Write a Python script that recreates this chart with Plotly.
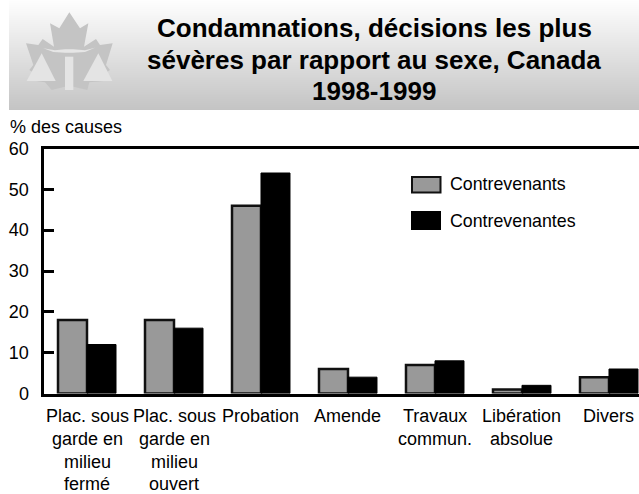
import plotly.graph_objects as go

categories = ["Plac. sous garde en milieu fermé", "Plac. sous garde en milieu ouvert", "Probation", "Amende",
              "Travaux commun.", "Libération absolue", "Divers"]
category_lines = [["Plac. sous", "garde en", "milieu", "fermé"], ["Plac. sous", "garde en", "milieu", "ouvert"],
                  ["Probation"], ["Amende"], ["Travaux", "commun."], ["Libération", "absolue"], ["Divers"]]
contrevenants = [18, 18, 46, 6, 7, 1, 4]
contrevenantes = [12, 16, 54, 4, 8, 2, 6]
title_lines = ["Condamnations, décisions les plus", "sévères par rapport au sexe, Canada", "1998-1999"]
y_ticks = [0, 10, 20, 30, 40, 50, 60]

W, H = 639, 494
FONT = "Liberation Sans, Arial, sans-serif"
px = lambda x: x / W
py = lambda y: 1 - y / H


def rect(x0, y0, x1, y1, fill, line=None, lw=0, layer="below"):
    return dict(type="rect", xref="paper", yref="paper", x0=px(x0), x1=px(x1), y0=py(y0), y1=py(y1),
                fillcolor=fill, line=dict(color=line or fill, width=lw), layer=layer)


def poly(points, fill):
    d = "M " + " L ".join(f"{px(x):.5f},{py(y):.5f}" for x, y in points) + " Z"
    return dict(type="path", xref="paper", yref="paper", path=d, fillcolor=fill, line=dict(width=0), layer="below")


def leafpt(pts):
    return [(10 + a / 3, 5 + b / 3) for a, b in pts]


shapes = []
for i in range(110):
    v = round(254 - (254 - 196) * i / 109)
    shapes.append(rect(9, i, 639, i + 1, f"rgb({v},{v},{v})"))

leaf = [(178, 22), (210, 70), (235, 55), (222, 125), (258, 102), (270, 120), (308, 115), (288, 180), (300, 195),
        (270, 215), (282, 228), (238, 232), (232, 255), (190, 245), (165, 245), (125, 255), (105, 232), (78, 228),
        (88, 215), (58, 195), (70, 180), (48, 115), (85, 120), (98, 102), (132, 125), (120, 55), (148, 70)]
shapes.append(poly(leafpt(leaf), "#c4c4c4"))
shapes.append(poly(leafpt([(95, 145), (137, 228), (50, 228)]), "#e4e4e4"))
shapes.append(poly(leafpt([(265, 145), (307, 228), (220, 228)]), "#e4e4e4"))
shapes.append(poly(leafpt([(100, 130), (135, 136), (165, 133), (190, 133), (225, 136), (255, 128), (225, 141),
                           (190, 143), (165, 143), (130, 141)]), "#e6e6e6"))
shapes.append(rect(10 + 165 / 3, 5 + 155 / 3, 10 + 190 / 3, 5 + 255 / 3, "#e4e4e4"))

shapes.append(rect(412, 177, 440.5, 192.5, "#999999", "#111111", 2, "above"))
shapes.append(rect(411, 211, 441, 230, "#000000", layer="above"))

annotations = []
for text, y in zip(title_lines, [28, 60, 91]):
    annotations.append(dict(text="<b>" + text + "</b>", x=px(374), y=py(y), xref="paper", yref="paper",
                            showarrow=False, xanchor="center", yanchor="middle",
                            font=dict(family=FONT, size=26, color="#000000")))
annotations.append(dict(text="% des causes", x=px(10), y=py(127), xref="paper", yref="paper", showarrow=False,
                        xanchor="left", yanchor="middle", xshift=-2, font=dict(family=FONT, size=18, color="#000000")))
for text, y in [("Contrevenants", 183.5), ("Contrevenantes", 220.5)]:
    annotations.append(dict(text=text, x=px(448), y=py(y), xref="paper", yref="paper", showarrow=False,
                            xanchor="left", yanchor="middle", font=dict(family=FONT, size=17.8, color="#000000")))
line_centres = [415.5, 439, 462, 483.5]
for i, lines in enumerate(category_lines):
    for j, line in enumerate(lines):
        annotations.append(dict(text=line, x=i, y=py(line_centres[j]), xref="x", yref="paper", showarrow=False,
                                xanchor="center", yanchor="middle", font=dict(family=FONT, size=18, color="#000000")))

xs = list(range(len(categories)))
fig = go.Figure()
fig.add_bar(x=xs, y=contrevenants, name="Contrevenants", marker=dict(color="#999999", line=dict(color="#111111", width=2.5)))
fig.add_bar(x=xs, y=contrevenantes, name="Contrevenantes", marker=dict(color="#000000", line=dict(color="#000000", width=1)))

fig.update_layout(
    width=W, height=H, margin=dict(l=0, r=0, t=0, b=0), paper_bgcolor="#ffffff", plot_bgcolor="#ffffff",
    barmode="group", bargap=1 / 3, bargroupgap=0, showlegend=False, shapes=shapes, annotations=annotations,
    font=dict(family=FONT, size=18, color="#000000"),
    xaxis=dict(domain=[43.5 / W, 1], range=[-0.5, 6.345], tickvals=[], showgrid=False, zeroline=False, automargin=False,
               showline=True, linecolor="#000000", linewidth=3, mirror=True),
    yaxis=dict(domain=[py(393.5), py(148.5)], range=[0, 60], tickvals=y_ticks, ticks="inside", ticklen=10, tickwidth=3,
               tickcolor="#000000", ticklabelstandoff=8, showgrid=False, zeroline=False, showline=True, automargin=False,
               linecolor="#000000", linewidth=3),
)
fig.write_html("out.html", config={"displayModeBar": False},
               post_script="document.body.style.margin='0';document.body.style.overflow='hidden';")
